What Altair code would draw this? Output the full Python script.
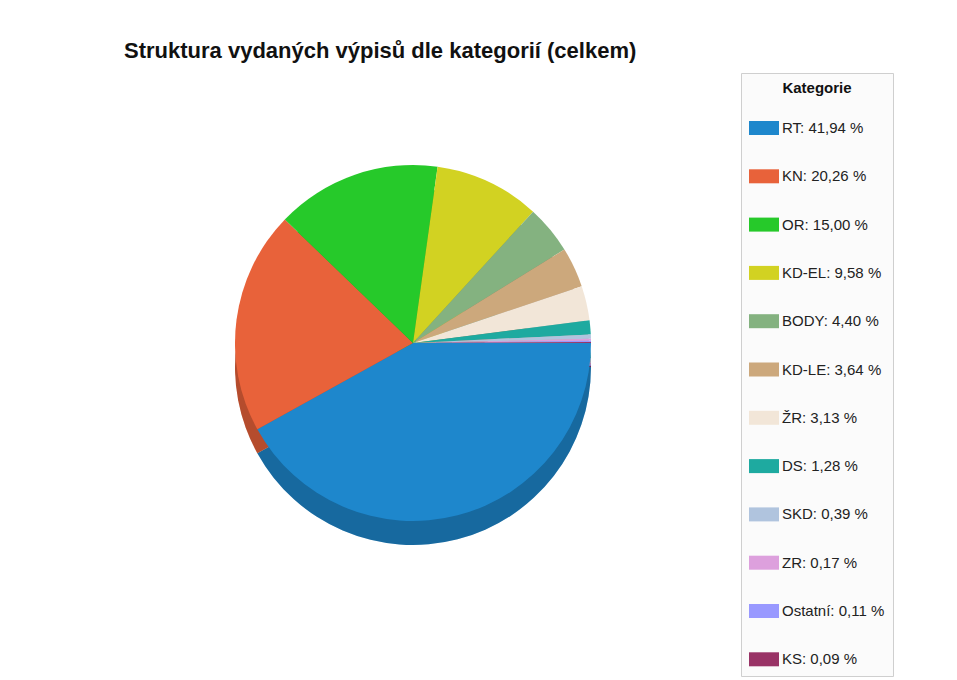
import math
import altair as alt
import pandas as pd

categories = ["RT", "KN", "OR", "KD-EL", "BODY", "KD-LE", "ŽR", "DS", "SKD", "ZR", "Ostatní", "KS"]
shares = [41.94, 20.26, 15.00, 9.58, 4.40, 3.64, 3.13, 1.28, 0.39, 0.17, 0.11, 0.09]
colors = ["#1E87CC", "#E8623A", "#26C92A", "#D2D222", "#84B280", "#CCA87C",
          "#F2E6D8", "#1EAAA0", "#B0C4DE", "#DDA0DD", "#9999FF", "#993366"]

labels = [f"{c}: {v:.2f} %".replace(".", ",") for c, v in zip(categories, shares)]
df = pd.DataFrame({"label": labels, "share": shares, "order": list(range(len(shares)))})

FONT = "Liberation Sans"
R = 178
DEPTH = 24

theta = alt.Theta("share:Q", stack=True,
                  scale=alt.Scale(range=[math.pi / 2, math.pi / 2 + 2 * math.pi]))
color = alt.Color(
    "label:N",
    scale=alt.Scale(domain=labels, range=colors),
    sort=labels,
    legend=alt.Legend(
        title="Kategorie",
        orient="right",
        offset=-77,
        padding=8,
        titlePadding=17,
        titleAnchor="middle",
        titleFontSize=15,
        titleFontWeight="bold",
        titleFont=FONT,
        titleColor="#111111",
        labelFont=FONT,
        labelFontSize=15,
        labelColor="#222222",
        labelOffset=3,
        labelLimit=200,
        symbolType="M-1,-0.467H1V0.467H-1Z",
        symbolSize=900,
        symbolStrokeWidth=0,
        symbolOpacity=1,
        rowPadding=25.3,
        fillColor="#fbfbfb",
        strokeColor="#cfcfcf",
    ),
)
order = alt.Order("order:Q")

side = alt.Chart(df).mark_arc(radius=R, yOffset=DEPTH, stroke=None).encode(
    theta=theta, color=color, order=order
)
side_shade = alt.Chart(df).mark_arc(radius=R, yOffset=DEPTH, color="black", fillOpacity=0.22).encode(
    theta=theta, order=order
)
top = alt.Chart(df).mark_arc(radius=R, stroke=None).encode(
    theta=theta, color=color, order=order
)

chart = (
    alt.layer(side, side_shade, top)
    .properties(
        width=810,
        height=540,
        padding={"left": 0, "top": 31, "right": 0, "bottom": 0},
        title=alt.TitleParams(
            "Struktura vydaných výpisů dle kategorií (celkem)",
            anchor="start",
            dx=116,
            font=FONT,
            fontSize=22,
            fontWeight="bold",
            color="#111111",
            offset=10,
        ),
    )
    .configure_view(stroke=None)
)

chart.save("out.html", embed_options={"renderer": "svg", "actions": False})
